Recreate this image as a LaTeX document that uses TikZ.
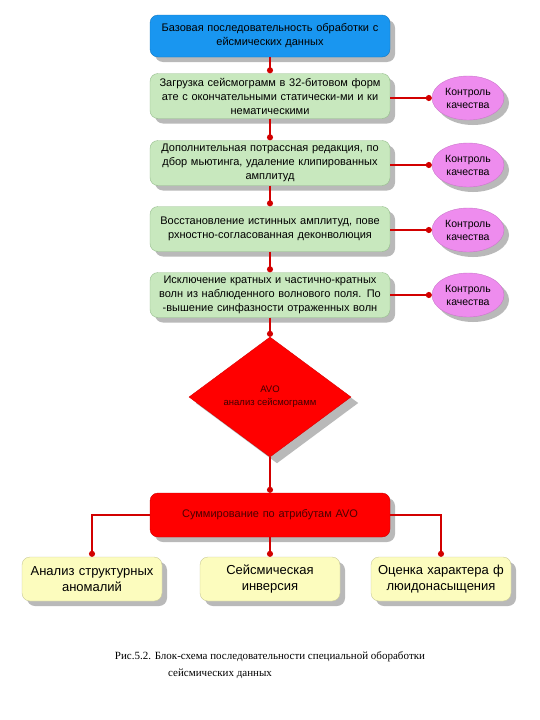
\documentclass[tikz,border=0pt]{standalone}
\usepackage{fontspec}
\setmainfont{Liberation Sans}
\newfontfamily\capfont{Liberation Serif}
\usetikzlibrary{shapes.geometric,shadows,arrows.meta,backgrounds}
\definecolor{bluebox}{RGB}{25,150,240}
\definecolor{greenbox}{RGB}{200,232,190}
\definecolor{greenline}{RGB}{150,190,140}
\definecolor{pinkbox}{RGB}{238,140,238}
\definecolor{yellowbox}{RGB}{252,252,190}
\definecolor{conn}{RGB}{210,0,0}
\definecolor{shadowgray}{RGB}{185,185,185}
\begin{document}
\begin{tikzpicture}[x=1pt,y=-1pt,
  shad/.style={drop shadow={shadow xshift=5pt,shadow yshift=-5pt,fill=shadowgray,opacity=1}},
  mainbox/.style={shad,rectangle,rounded corners=8pt,minimum width=240pt,text width=234pt,
    align=center,inner sep=2pt,font=\fontsize{11}{14}\selectfont},
  bluestep/.style={mainbox,fill=bluebox,draw=bluebox!80!black,minimum height=42pt},
  greenstep/.style={mainbox,fill=greenbox,draw=greenline,minimum height=45pt},
  redstep/.style={mainbox,fill=red,draw=red!80!black,minimum height=44pt,text=black!70!red},
  qc/.style={shad,ellipse,fill=pinkbox,draw=pinkbox!85!black,minimum width=72pt,minimum height=44pt,
    inner sep=0pt,align=center,font=\fontsize{10.5}{13}\selectfont},
  result/.style={shad,rectangle,rounded corners=8pt,fill=yellowbox,draw=yellowbox!80!black,
    minimum width=140pt,minimum height=44pt,text width=136pt,align=center,inner sep=2pt,
    font=\fontsize{13}{16}\selectfont},
  decision/.style={diamond,minimum width=162pt,minimum height=120pt,
    aspect=1.35,inner sep=0pt,align=center,fill=red,draw=red!85!black,
    font=\fontsize{9.5}{13}\selectfont,text=black!75!red},
  link/.style={draw=conn,line width=1.6pt,-{Circle[length=6pt]}}
]
\useasboundingbox (0,0) rectangle (540,720);

\node[bluestep]  (b1) at (270,36)  {Базовая последовательность обработки с\\ейсмических данных};
\node[greenstep] (b2) at (270,96)  {Загрузка сейсмограмм в 32-битовом форм\\ате с окончательными статически-ми и ки\\нематическими};
\node[greenstep] (b3) at (270,163) {Дополнительная потрассная редакция, по\\дбор мьютинга, удаление клипированных\\амплитуд};
\node[greenstep] (b4) at (270,229) {Восстановление истинных амплитуд, пове\\рхностно-согласованная деконволюция};
\node[greenstep] (b5) at (270,295) {Исключение кратных и частично-кратных\\волн из наблюденного волнового поля. По\\-вышение синфазности отраженных волн};
\node[decision]  (d)  at (270,397) {AVO\\анализ сейсмограмм};
\node[redstep]   (s)  at (270,515) {Суммирование по атрибутам AVO};

\begin{scope}[on background layer]
  \fill[white] (0,0) rectangle (540,720);
  \fill[shadowgray] ([shift={(7,6)}]d.north) -- ([shift={(7,6)}]d.east)
    -- ([shift={(7,6)}]d.south) -- ([shift={(7,6)}]d.west) -- cycle;
\end{scope}

\node[qc] (q1) at (468,98)  {Контроль\\качества};
\node[qc] (q2) at (468,165) {Контроль\\качества};
\node[qc] (q3) at (468,230) {Контроль\\качества};
\node[qc] (q4) at (468,295) {Контроль\\качества};

\node[result] (r1) at (92,579)  {Анализ структурных\\аномалий};
\node[result] (r2) at (270,579) {Сейсмическая\\инверсия};
\node[result] (r3) at (441,579) {Оценка характера ф\\люидонасыщения};

\draw[link] (b1.south) -- (b2.north);
\draw[link] (b2.south) -- (b3.north);
\draw[link] (b3.south) -- (b4.north);
\draw[link] (b4.south) -- (b5.north);
\draw[link] (b5.south) -- (d.north);
\draw[link] (d.south) -- (s.north);

\draw[link] (q1.west -| b2.east) -- (q1.west);
\draw[link] (q2.west -| b3.east) -- (q2.west);
\draw[link] (q3.west -| b4.east) -- (q3.west);
\draw[link] (q4.west -| b5.east) -- (q4.west);

\draw[link] (s.west) -| (r1.north);
\draw[link] (s.south) -- (r2.north);
\draw[link] (s.east) -| (r3.north);

\node[font=\capfont\fontsize{11}{14}\selectfont] (c1) at (270,657) {Рис.5.2. Блок-схема последовательности специальной оборабoтки};
\node[font=\capfont\fontsize{11}{14}\selectfont,anchor=west,inner sep=0pt] (c2) at (168,674) {сейсмических данных};
\end{tikzpicture}
\end{document}
